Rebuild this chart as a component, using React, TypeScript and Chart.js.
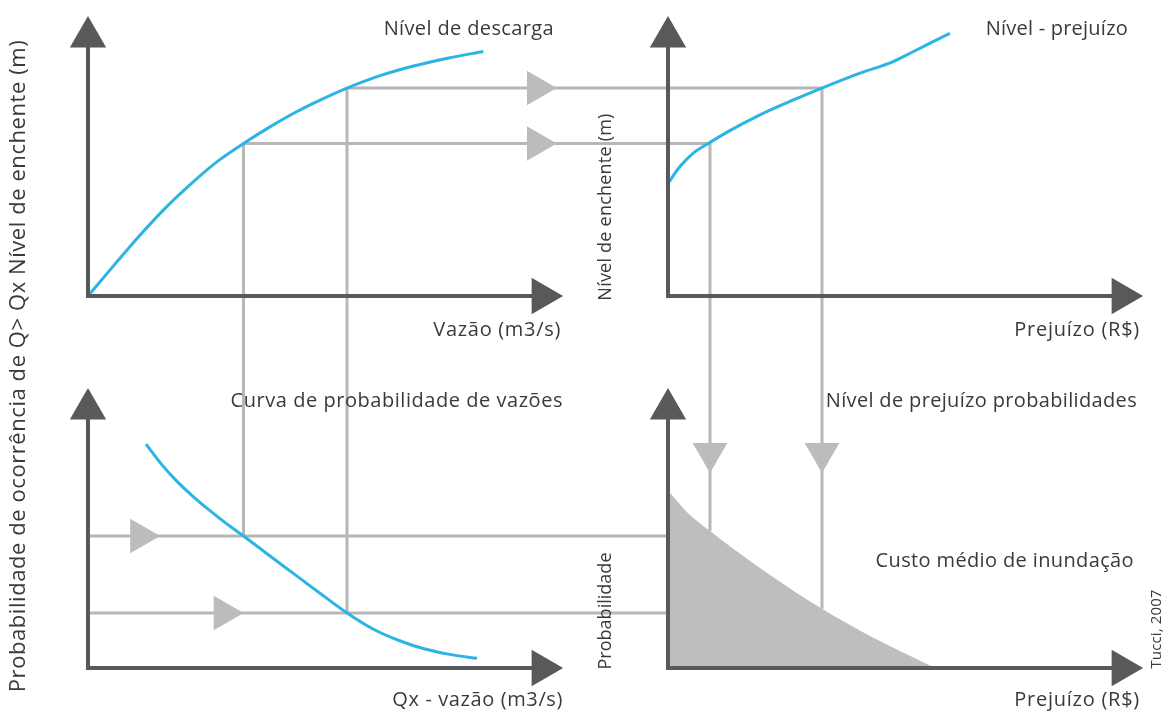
import React, { useEffect, useRef } from "react";
import { Chart, registerables } from "chart.js";

Chart.register(...registerables);

// Diagram units: x = 0 / 100 are the left / right panels' vertical axes,
// y = 0 / 100 are the bottom / top panels' horizontal axes.
const X_RANGE = [-15.17, 186.38];
const Y_RANGE = [-12.9, 179.57];

// Blue curves
const dischargeX = [0, 4.5, 9, 13.5, 18, 22.5, 26.81, 31.3, 35.8, 40.2, 44.66, 50.5, 56.3, 62.2, 68.16];
const dischargeY = [100, 108.3, 116.4, 123.9, 130.5, 136.4, 141.0, 145.4, 149.4, 152.8, 155.9, 159.3, 161.9, 164.0, 165.7];

const damageX = [100, 102.07, 104.36, 107.24, 110.12, 115.86, 121.6, 126.55, 133.1, 138.84, 140.0, 144.6, 148.6];
const damageY = [130.3, 134.8, 138.4, 141.3, 144.0, 148.7, 152.7, 155.9, 159.9, 163.0, 163.9, 167.5, 170.6];

const flowProbX = [10.0, 12.76, 15.52, 18.28, 21.03, 23.88, 26.81, 31.21, 35.69, 40.17, 44.66, 49.14, 53.62, 58.1, 62.59, 67.07];
const flowProbY = [60.2, 54.6, 49.9, 45.9, 42.3, 38.8, 35.5, 30.3, 25.1, 19.9, 14.8, 10.5, 7.4, 5.1, 3.6, 2.6];

// Grey filled curve (average flood cost)
const costX = [100, 103.28, 107.24, 111.55, 117.59, 126.55, 134.83, 146.03];
const costY = [47.8, 41.9, 36.8, 31.7, 25.0, 15.9, 8.6, 0];

// Axes (arrow end, origin, arrow end)
const axisTopLeftX = [0, 0, 78.3];
const axisTopLeftY = [169.6, 100, 100];
const axisTopRightX = [100, 100, 178.3];
const axisTopRightY = [169.6, 100, 100];
const axisBottomLeftX = [0, 0, 78.3];
const axisBottomLeftY = [69.6, 0, 0];
const axisBottomRightX = [100, 100, 178.3];
const axisBottomRightY = [69.6, 0, 0];

// Connector paths (grey)
const connAX = [26.81, 77.4, 107.24, 107.24, 107.24];
const connAY = [141.0, 141.0, 141.0, 57.8, 36.8];
const connBX = [44.66, 77.4, 126.55, 126.55, 126.55];
const connBY = [155.9, 155.9, 155.9, 57.8, 15.9];
const connCX = [26.81, 26.81];
const connCY = [141.0, 35.5];
const connDX = [44.66, 44.66];
const connDY = [155.9, 14.8];
const connEX = [0, 9.0, 100];
const connEY = [35.5, 35.5, 35.5];
const connFX = [0, 23.4, 100];
const connFY = [14.8, 14.8, 14.8];

const zip = (xs: number[], ys: number[]) => xs.map((x, i) => ({ x, y: ys[i] }));

const AXIS = "#58595b";
const BLUE = "#2bb4e4";
const GREY_LINE = "#b7b7b9";
const GREY_ARROW = "#bcbcbe";
const FILL = "#bdbec0";
const TEXT = "#3a3a3a";
const FONT = "'Open Sans', 'Noto Sans', sans-serif";

type Label = { text: string; x: number; y: number; size: number; w: number; align: CanvasTextAlign; rot?: boolean };
const labels: Label[] = [
  { text: "Nível de descarga", x: 554, y: 35, size: 20, w: 170, align: "right" },
  { text: "Vazão (m3/s)", x: 561, y: 336, size: 20, w: 127, align: "right" },
  { text: "Nível - prejuízo", x: 1128, y: 35, size: 20, w: 142, align: "right" },
  { text: "Prejuízo (R$)", x: 1140, y: 336, size: 20, w: 125, align: "right" },
  { text: "Curva de probabilidade de vazões", x: 563, y: 407, size: 20, w: 332, align: "right" },
  { text: "Qx - vazão (m3/s)", x: 563, y: 706, size: 20, w: 170, align: "right" },
  { text: "Nível de prejuízo probabilidades", x: 1137, y: 407, size: 20, w: 311, align: "right" },
  { text: "Custo médio de inundação", x: 1134, y: 567, size: 20, w: 258, align: "right" },
  { text: "Prejuízo (R$)", x: 1140, y: 706, size: 20, w: 125, align: "right" },
  { text: "Probabilidade de ocorrência de Q> Qx Nível de enchente (m)", x: 19, y: 366, size: 22, w: 652, align: "center", rot: true },
  { text: "Nível de enchente (m)", x: 606, y: 207, size: 18, w: 187, align: "center", rot: true },
  { text: "Probabilidade", x: 606, y: 611, size: 18, w: 117, align: "center", rot: true },
  { text: "Tucci, 2007", x: 1157, y: 629, size: 15, w: 79, align: "center", rot: true },
];

const axisDs = (xs: number[], ys: number[]) => ({
  data: zip(xs, ys),
  showLine: true,
  borderColor: AXIS,
  borderWidth: 4,
  borderJoinStyle: "miter" as const,
  borderCapStyle: "butt" as const,
  tension: 0,
  pointStyle: "triangle" as const,
  pointRadius: [21, 0, 21],
  pointRotation: [0, 0, 90],
  pointBackgroundColor: AXIS,
  pointBorderWidth: 0,
  fill: false,
});

const curveDs = (xs: number[], ys: number[]) => ({
  data: zip(xs, ys),
  showLine: true,
  borderColor: BLUE,
  borderWidth: 3,
  cubicInterpolationMode: "monotone" as const,
  tension: 0.4,
  pointRadius: 0,
  fill: false,
});

const connDs = (xs: number[], ys: number[], radii: number[], rots: number[]) => ({
  data: zip(xs, ys),
  showLine: true,
  borderColor: GREY_LINE,
  borderWidth: 3,
  borderJoinStyle: "miter" as const,
  tension: 0,
  pointStyle: "triangle" as const,
  pointRadius: radii,
  pointRotation: rots,
  pointBackgroundColor: GREY_ARROW,
  pointBorderWidth: 0,
  fill: false,
});

const textPlugin = {
  id: "diagramText",
  afterDatasetsDraw(chart: any) {
    const ctx: any = chart.ctx;
    ctx.save();
    ctx.fillStyle = TEXT;
    for (const l of labels) {
      ctx.save();
      ctx.font = `${l.size}px ${FONT}`;
      if ("letterSpacing" in ctx) {
        ctx.letterSpacing = "0px";
        const m = ctx.measureText(l.text).width;
        const n = Math.max(1, l.text.length - 1);
        const ls = (l.w - m) / n;
        ctx.letterSpacing = `${ls.toFixed(2)}px`;
      }
      ctx.textAlign = l.align;
      if (l.rot) {
        ctx.translate(l.x, l.y);
        ctx.rotate(-Math.PI / 2);
        ctx.textBaseline = "middle";
        ctx.fillText(l.text, 0, 0);
      } else {
        ctx.textBaseline = "alphabetic";
        ctx.fillText(l.text, l.x, l.y);
      }
      ctx.restore();
    }
    ctx.restore();
  },
};

export default function App() {
  const ref = useRef<HTMLCanvasElement | null>(null);
  useEffect(() => {
    document.body.style.margin = "0";
    document.body.style.background = "#ffffff";
    if (!ref.current) return;
    const chart = new Chart(ref.current, {
      type: "scatter",
      data: {
        datasets: [
          axisDs(axisTopLeftX, axisTopLeftY),
          axisDs(axisTopRightX, axisTopRightY),
          axisDs(axisBottomLeftX, axisBottomLeftY),
          axisDs(axisBottomRightX, axisBottomRightY),
          curveDs(dischargeX, dischargeY),
          curveDs(damageX, damageY),
          curveDs(flowProbX, flowProbY),
          {
            data: zip(costX, costY),
            showLine: true,
            borderWidth: 0,
            borderColor: FILL,
            backgroundColor: FILL,
            cubicInterpolationMode: "monotone" as const,
            tension: 0.4,
            pointRadius: 0,
            fill: "origin",
          },
          connDs(connAX, connAY, [0, 20, 0, 20, 0], [0, 90, 0, 180, 0]),
          connDs(connBX, connBY, [0, 20, 0, 20, 0], [0, 90, 0, 180, 0]),
          connDs(connCX, connCY, [0, 0], [0, 0]),
          connDs(connDX, connDY, [0, 0], [0, 0]),
          connDs(connEX, connEY, [0, 20, 0], [0, 90, 0]),
          connDs(connFX, connFY, [0, 20, 0], [0, 90, 0]),
        ] as any,
      },
      options: {
        responsive: false,
        maintainAspectRatio: false,
        animation: false,
        events: [],
        layout: { padding: 0, autoPadding: false },
        plugins: { legend: { display: false }, tooltip: { enabled: false } },
        scales: {
          x: { type: "linear", min: X_RANGE[0], max: X_RANGE[1], display: false },
          y: { type: "linear", min: Y_RANGE[0], max: Y_RANGE[1], display: false },
        },
      } as any,
      plugins: [textPlugin],
    });
    return () => chart.destroy();
  }, []);
  return (
    <div style={{ width: 1169, height: 716, background: "#fff" }}>
      <canvas ref={ref} width={1169} height={716} style={{ display: "block" }} />
    </div>
  );
}
